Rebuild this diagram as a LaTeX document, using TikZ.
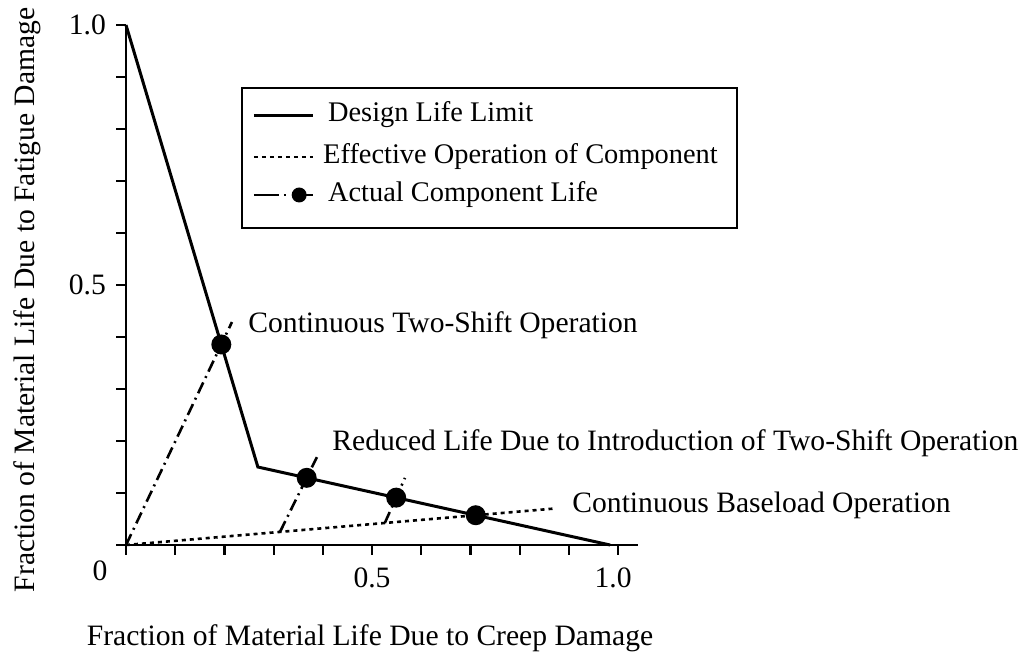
\documentclass[tikz,border=0pt]{standalone}
\usepackage{fontspec}
\setmainfont{Liberation Serif}
\usepackage{tikz}
\usetikzlibrary{positioning}
\tikzstyle{axis}=[
line width=1.4pt
]
\tikzstyle{limit}=[
line width=1.5pt
]
\tikzstyle{effective}=[
line width=1.3pt,
dash pattern=on 2pt off 2pt
]
\tikzstyle{actual}=[
line width=1.3pt,
dash pattern=on 6pt off 2.5pt on 1pt off 2.5pt
]
\tikzstyle{lifedot}=[
circle,
fill=black,
inner sep=0pt,
minimum size=10pt
]
\tikzstyle{tag}=[
anchor=west,
inner sep=0pt
]
\tikzstyle{legtag}=[
tag,
font=\fontsize{14.2}{17}\selectfont
]

\begin{document}
\begin{tikzpicture}[x=246pt, y=260pt, font=\fontsize{14.8}{17}\selectfont]
\useasboundingbox (-0.2561,-0.2192) rectangle (1.8455,1.0481);

% axes and ticks
\coordinate (O) at (0,0);
\coordinate (ytop) at (0,1);
\coordinate (xend) at (1.04,0);
\draw[axis] (ytop) -- (O) -- (xend);
\foreach \t in {0,...,10} \draw[line width=1.1pt] (0,\t/10) -- ++(-0.0203,0);
\foreach \t in {0,...,10} \draw[line width=1.1pt] (\t/10,0) -- ++(0,-0.0192);

\node (y1) [anchor=east, inner sep=0pt] at (-0.04,1) {1.0};
\node (y5) [anchor=east, inner sep=0pt] at (-0.04,0.5) {0.5};
\node (x0) at (-0.0528,-0.05) {0};
\node (x5) at (0.5,-0.0635) {0.5};
\node (x1) at (0.99,-0.0635) {1.0};

\node (ylab) [rotate=90] at (-0.2012,0.4712) {Fraction of Material Life Due to Fatigue Damage};
\node (xlab) at (0.4959,-0.1788) {Fraction of Material Life Due to Creep Damage};

% design life limit
\coordinate (top) at (0,1);
\coordinate (knee) at (0.268,0.15);
\coordinate (end) at (0.984,0);
\draw[limit] (top) -- (knee) -- (end);

% operation lines
\coordinate (base) at (0.868,0.0699);
\coordinate (shift) at (0.2154,0.4288);
\coordinate (r1a) at (0.313,0.0252);
\coordinate (r1b) at (0.388,0.169);
\coordinate (r2a) at (0.526,0.0423);
\coordinate (r2b) at (0.567,0.129);
\draw[effective] (O) -- (base);
\draw[actual] (O) -- (shift);
\draw[actual] (r1a) -- (r1b);
\draw[actual] (r2a) -- (r2b);

\node (p1) [lifedot] at (intersection of O--shift and top--knee) {};
\node (p2) [lifedot] at (intersection of r1a--r1b and knee--end) {};
\node (p3) [lifedot] at (intersection of r2a--r2b and knee--end) {};
\node (p4) [lifedot] at (intersection of O--base and knee--end) {};

\node (twoshift) [tag] at (0.248,0.4231) {Continuous Two-Shift Operation};
\node (reduced) [tag] at (0.4187,0.1962) {Reduced Life Due to Introduction of Two-Shift Operation};
\node (baseload) [tag] at (0.9065,0.0769) {Continuous Baseload Operation};

% legend
\draw[line width=1pt] (0.2358,0.6096) rectangle (1.2419,0.8788);
\draw[limit] (0.26,0.8269) -- (0.38,0.8269);
\draw[effective] (0.26,0.7462) -- (0.38,0.7462);
\draw[line width=1.3pt] (0.26,0.6731) -- (0.31,0.6731);
\draw[line width=1.3pt] (0.321,0.6731) -- (0.326,0.6731);
\draw[line width=1.3pt] (0.34,0.6731) -- (0.38,0.6731);
\node (legdot) [lifedot, minimum size=7.5pt] at (0.352,0.6731) {};
\node (leg1) [legtag] at (0.41,0.8269) {Design Life Limit};
\node (leg2) [legtag] at (0.40,0.7462) {Effective Operation of Component};
\node (leg3) [legtag] at (0.41,0.6731) {Actual Component Life};

\end{tikzpicture}
\end{document}
